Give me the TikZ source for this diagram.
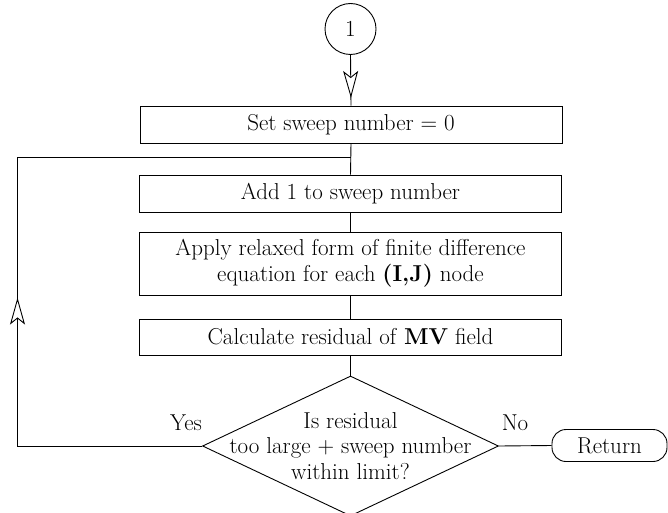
\documentclass[tikz,border=0pt]{standalone}
\usetikzlibrary{arrows.meta,decorations.markings,shapes.geometric}
\tikzset{openarr/.tip={Stealth[fill=white,length=27pt,width=15pt,inset=6pt,line width=0.9pt]}}
\begin{document}
\begin{tikzpicture}[x=1pt,y=-1pt,
  every node/.style={font=\fontsize{23}{25.5}\selectfont},
  conn/.style={line width=0.9pt},
  midarrow/.style={postaction={decorate,decoration={markings,mark=at position #1 with {\arrow{openarr}}}}},
  procbox/.style={draw,line width=0.9pt,rectangle,minimum width=422pt,inner sep=0pt,align=center},
  termbox/.style={draw,line width=0.9pt,rectangle,rounded corners=14pt,minimum width=115pt,minimum height=32pt,inner sep=0pt},
  lbl/.style={inner sep=0pt}]
\useasboundingbox (0,0) rectangle (668,513);
\node[draw,circle,line width=0.9pt,minimum size=51pt,inner sep=0pt] (c1) at (350.5,29) {1};
\node[procbox,minimum height=37pt] (b1) at (351,124.5) {Set sweep number = 0};
\node[procbox,minimum height=37pt] (b2) at (350.5,193.5) {Add 1 to sweep number};
\node[procbox,minimum height=63pt] (b3) at (350.5,263.5) {Apply relaxed form of finite difference\\equation for each \textbf{(I,J)} node};
\node[procbox,minimum height=36pt] (b4) at (350.5,337) {Calculate residual of \textbf{MV} field};
\node[draw,diamond,line width=0.9pt,minimum width=296pt,minimum height=140pt,inner sep=0pt] (dec) at (350.5,446) {};
\node[align=center,inner sep=0pt] (dect) at (350.5,446) {Is residual\\too large + sweep number\\within limit?};
\node[termbox] (ret) at (609.5,445.5) {Return};
\node[lbl] (yes) at (186,423) {Yes};
\node[lbl] (no) at (515,423) {No};
\coordinate (j) at (350.5,157);
\coordinate (lb) at (17.5,446);
\coordinate (lt) at (17.5,157);
\draw[conn,midarrow=43pt] (c1.south) -- (b1.north);
\draw[conn] (b1.south) -- (b2.north);
\draw[conn] (b2.south) -- (b3.north);
\draw[conn] (b3.south) -- (b4.north);
\draw[conn] (b4.south) -- (dec.north);
\draw[conn] (dec.east) -- (ret.west);
\draw[conn,midarrow=333pt] (dec.west) -- (lb) -- (lt) -- (j);
\end{tikzpicture}
\end{document}
